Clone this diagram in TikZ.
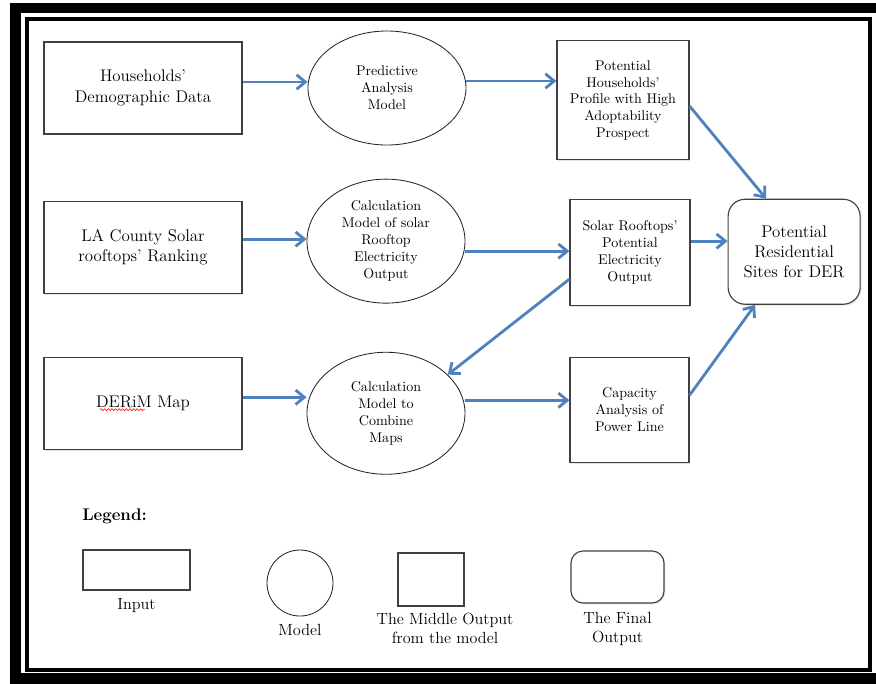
\documentclass[tikz,border=0pt]{standalone}
\usepackage{xcolor}
\usepackage{tikz}
\usetikzlibrary{positioning, arrows.meta, shapes.geometric, shadows, decorations.pathmorphing}
\definecolor{arrowblue}{RGB}{79,129,189}

\begin{document}
\begin{tikzpicture}[
  x=0.25mm, y=-0.25mm,
  >={Straight Barb[length=2.2mm, width=3.6mm]},
  box/.style={draw=black!75, line width=0.8pt, fill=white, align=center, inner sep=2pt,
    drop shadow={shadow xshift=0.35mm, shadow yshift=-0.35mm, opacity=0.2}},
  inbox/.style={box, minimum width=49.5mm, minimum height=23mm, font=\fontsize{12}{14.5}\selectfont},
  model/.style={ellipse, draw=black!85, line width=0.6pt, fill=white, align=center,
    inner sep=0pt, minimum width=39.5mm, font=\fontsize{10}{12}\selectfont},
  mid/.style={box, font=\fontsize{10}{12}\selectfont},
  final/.style={box, rounded corners=4.25mm, font=\fontsize{12}{14.5}\selectfont},
  lbl/.style={align=center, inner sep=0pt, font=\fontsize{11.5}{13.5}\selectfont},
  arr/.style={->, draw=arrowblue, line width=2pt}
]
\fill[white] (0,0) rectangle (876,683);
\useasboundingbox (0,0) rectangle (876,683);
% frame
\fill[black] (10,3) rectangle (900,700);
\fill[white] (21,13) rectangle (900,673);
\draw[line width=1mm] (27,19) rectangle (870,670);

% inputs
\node[inbox] (hh) at (143,88) {Households'\\Demographic Data};
\node[inbox, below=16.5mm of hh] (la) {LA County Solar\\rooftops' Ranking};
\node[inbox, below=15.75mm of la] (derim) {DERiM Map};
\draw[red, line width=0.4pt, decorate, decoration={snake, amplitude=0.25mm, segment length=0.9mm}]
  ([xshift=-10.75mm, yshift=-1.6mm]derim.center) -- ([xshift=0.5mm, yshift=-1.6mm]derim.center);

% models
\node[model, minimum height=28.5mm, right=16.25mm of hh] (pam) {Predictive\\Analysis\\Model};
\node[model, minimum height=31mm, right=16mm of la, yshift=1.5mm] (csr)
  {Calculation\\Model of solar\\Rooftop\\Electricity\\Output};
\node[model, minimum height=30.5mm, right=16mm of derim, yshift=-2.5mm] (ccm)
  {Calculation\\Model to\\Combine\\Maps};

% middle outputs
\node[mid, minimum width=33mm, minimum height=29.75mm, right=22.5mm of pam, yshift=-3.1mm] (prof)
  {Potential\\Households'\\Profile with High\\Adoptability\\Prospect};
\node[mid, minimum width=30mm, minimum height=26.5mm, right=26mm of csr, yshift=-2.75mm] (sol)
  {Solar Rooftops'\\Potential\\Electricity\\Output};
\node[mid, minimum width=29.75mm, minimum height=26.25mm, right=26mm of ccm, yshift=0.9mm] (cap)
  {Capacity\\Analysis of\\Power Line};

% final output
\node[final, minimum width=33mm, minimum height=26.25mm, right=9.25mm of sol, yshift=0.1mm] (fin)
  {Potential\\Residential\\Sites for DER};

\draw[arr] ([yshift=1.5mm]hh.east) -- ([yshift=1.5mm]hh.east -| pam.west);
\draw[arr] ([yshift=1.75mm]pam.east) -- ([yshift=1.75mm]pam.east -| prof.west);
\draw[arr] ([yshift=2mm]la.east) -- ([yshift=2mm]la.east -| csr.west);
\draw[arr] ([yshift=-2.5mm]csr.east) -- ([yshift=-2.5mm]csr.east -| sol.west);
\draw[arr] ([yshift=2.75mm]sol.east) -- ([yshift=2.75mm]sol.east -| fin.west);
\draw[arr] ([yshift=1.5mm]derim.east) -- ([yshift=1.5mm]derim.east -| ccm.west);
\draw[arr] ([yshift=3.25mm]ccm.east) -- ([yshift=3.25mm]ccm.east -| cap.west);
\draw[arr] ([yshift=-1.4mm]prof.east) -- ([xshift=-7mm]fin.north);
\draw[arr] ([yshift=-6.75mm]sol.west) -- (ccm.32);
\draw[arr] ([yshift=3.6mm]cap.east) -- ([xshift=-9.75mm]fin.south);

% legend
\node[font=\bfseries\fontsize{12}{14}\selectfont, anchor=west, inner sep=0pt] (leg) at (82,516) {Legend:};
\node[box, minimum width=26.75mm, minimum height=10mm, inner sep=0pt] (lin) at (136.5,570) {};
\node[circle, draw=black!85, line width=0.6pt, minimum size=16.5mm] (lmod) at (300,583) {};
\node[box, minimum width=16.5mm, minimum height=13.25mm, inner sep=0pt] (lmid) at (431,579.5) {};
\node[final, minimum width=23.25mm, minimum height=13mm, inner sep=0pt, rounded corners=3mm] (lfin) at (617.5,577) {};
\node[lbl, below=2mm of lin] (tin) {Input};
\node[lbl, below=2mm of lmod] (tmod) {Model};
\node[lbl, below=1.5mm of lmid, xshift=3.5mm] (tmid) {The Middle Output\\from the model};
\node[lbl, below=2.2mm of lfin] (tfin) {The Final\\Output};
\end{tikzpicture}
\end{document}
